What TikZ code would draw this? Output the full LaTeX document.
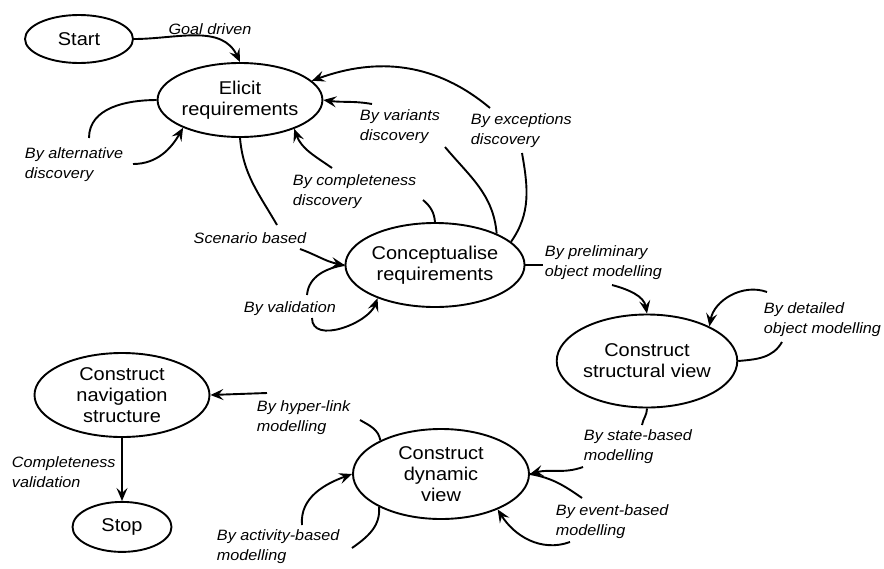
\documentclass[tikz,border=0pt]{standalone}
\usepackage{fontspec}
\setmainfont{Liberation Sans}[FakeStretch=1.08]
\usetikzlibrary{shapes.geometric,arrows.meta}
\usetikzlibrary{positioning}

\begin{document}
\begin{tikzpicture}[
  x=1pt, y=1pt,
  node distance=63pt,
  >={Stealth[length=13pt, width=11pt, inset=5pt]},
  line width=1.9pt,
  every node/.style={font=\fontsize{18.5}{21}\selectfont},
  activity/.style={draw, ellipse, align=center, inner sep=0pt},
  note/.style={align=left, inner sep=0pt, anchor=west, font=\fontsize{15}{20}\selectfont\itshape}
]
\useasboundingbox (0,0) rectangle (884,-568);

\node [activity, minimum width=108pt, minimum height=48pt] (start) at (79,-39) {Start};
\node [activity, minimum width=163pt, minimum height=74pt] (elicit) at (240,-100) {Elicit\\requirements};
\node [activity, minimum width=164pt, minimum height=84pt] (concept) at (435,-265) {Conceptualise\\requirements};
\node [activity, minimum width=179pt, minimum height=93pt] (struct) at (647,-361) {Construct\\structural view};
\node [activity, minimum width=176pt, minimum height=90pt] (dyn) at (441,-474) {Construct\\dynamic\\view};
\node [activity, minimum width=175pt, minimum height=84pt] (nav) at (122,-395) {Construct\\navigation\\structure};
\node [activity, minimum width=99pt, minimum height=50pt, below=of nav] (stop) {Stop};

% labels
\node [note, anchor=center] (goal) at (210,-29) {Goal driven};
\node [note] (alt) at (24,-165) {By alternative\\discovery};
\node [note, anchor=center] (scen) at (250,-238) {Scenario based};
\node [note] (val) at (243,-309) {By validation};
\node [note] (comp) at (292,-192) {By completeness\\discovery};
\node [note] (var) at (359,-127) {By variants\\discovery};
\node [note] (exc) at (470,-131) {By exceptions\\discovery};
\node [note] (pre) at (544,-263) {By preliminary\\object modelling};
\node [note] (det) at (763,-320) {By detailed\\object modelling};
\node [note] (state) at (583,-447) {By state-based\\modelling};
\node [note] (event) at (555,-522) {By event-based\\modelling};
\node [note] (hyper) at (256,-418) {By hyper-link\\modelling};
\node [note] (actv) at (216,-547) {By activity-based\\modelling};
\node [note] (cval) at (11,-472) {Completeness\\validation};

\coordinate (alt1) at (89,-138);
\coordinate (alt2) at (133,-164);
\coordinate (scen1) at (277,-225);
\coordinate (scen2) at (300,-249);
\coordinate (val1) at (307,-295);
\coordinate (val2) at (312,-318);
\coordinate (comp1) at (423,-200);
\coordinate (comp2) at (332,-168);
\coordinate (var1) at (445,-147);
\coordinate (var2) at (372,-104);
\coordinate (exc1) at (522,-153);
\coordinate (exc2) at (490,-108);
\coordinate (pre1) at (543,-265);
\coordinate (pre2) at (612,-285);
\coordinate (det1) at (782,-342);
\coordinate (det2) at (767,-292);
\coordinate (st1) at (642,-425);
\coordinate (st2) at (583,-467);
\coordinate (ev1) at (582,-498);
\coordinate (ev2) at (570,-542);
\coordinate (hyp1) at (360,-420);
\coordinate (hyp2) at (267,-393);
\coordinate (act1) at (352,-548);
\coordinate (act2) at (302,-525);

\draw [->] (start.east) to [out=0,in=115] (elicit.north);
\draw (elicit.west) to [out=180,in=90] (alt1);
\draw [->] (alt2) to [out=0,in=240] (elicit.206);
\draw (elicit.south) to [out=-85,in=120] (scen1);
\draw [->] (scen2) to [out=-20,in=170] (concept.west);
\draw (concept.west) to [out=190,in=85] (val1);
\draw [->] (val2) to [out=-90,in=250] (concept.210);
\draw (concept.north) to [out=95,in=-40] (comp1);
\draw [->] (comp2) to [out=145,in=-70] (elicit.332);
\draw (concept.27) to [out=95,in=-50] (var1);
\draw [->] (var2) to [out=170,in=-8] (elicit.east);
\draw (concept.17) to [out=55,in=-80] (exc1);
\draw [->] (exc2) to [out=140,in=20] (elicit.15);
\draw (concept.east) -- (pre1);
\draw [->] (pre2) to [out=-15,in=100] (struct.north);
\draw (struct.east) to [out=5,in=240] (det1);
\draw [->] (det2) to [out=160,in=80] (struct.29);
\draw (struct.south) to [out=-90,in=80] (st1);
\draw [->] (st2) to [out=200,in=15] (dyn.east);
\draw (dyn.east) to [out=-10,in=145] (ev1);
\draw [->] (ev2) to [out=200,in=-58] (dyn.328);
\draw (dyn.151) to [out=100,in=-30] (hyp1);
\draw [->] (hyp2) -- (nav.east);
\draw (dyn.208) to [out=-85,in=35] (act1);
\draw [->] (act2) to [out=95,in=200] (dyn.west);
\draw [->] (nav) -- (stop);
\end{tikzpicture}
\end{document}
